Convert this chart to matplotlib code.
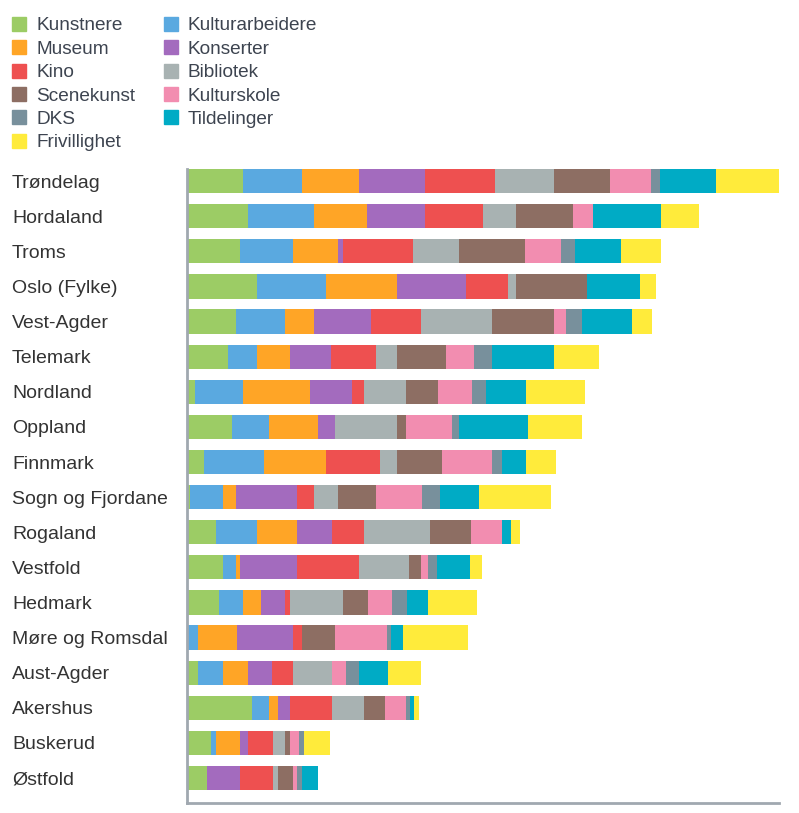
import matplotlib.pyplot as plt
from matplotlib.lines import Line2D
import numpy as np

plt.rcParams['font.family'] = ['Liberation Sans', 'DejaVu Sans']

# fylker, øverst til nederst
fylker = ['Trøndelag', 'Hordaland', 'Troms', 'Oslo (Fylke)', 'Vest-Agder', 'Telemark',
          'Nordland', 'Oppland', 'Finnmark', 'Sogn og Fjordane', 'Rogaland', 'Vestfold',
          'Hedmark', 'Møre og Romsdal', 'Aust-Agder', 'Akershus', 'Buskerud', 'Østfold']

kategorier = ['Kunstnere', 'Kulturarbeidere', 'Museum', 'Konserter', 'Kino', 'Bibliotek',
              'Scenekunst', 'Kulturskole', 'DKS', 'Tildelinger', 'Frivillighet']

farger = ['#9ccc65', '#5aa9e0', '#ffa526', '#a36bbe', '#ee5050', '#a8b2b2',
          '#8d6e63', '#f28db0', '#78909c', '#00abc5', '#ffeb3b']

# verdier per kategori (samme rekkefølge som fylker)
kunstnere = [56.4, 61, 53, 70.3, 49, 40.7, 8, 44.7, 17, 3, 28.7, 35.7, 32.3, 0, 11.3, 65, 23.7, 20.3]
kulturarbeidere = [58.3, 65.7, 53.3, 68.7, 49, 29.3, 48.3, 37.6, 60, 33, 41.3, 13.3, 24, 11.3, 25, 17.3, 5, 0]
museum = [57, 53.7, 44.7, 71, 29, 33, 66.7, 48.4, 62.3, 13.3, 40, 4, 17.4, 38.4, 24.7, 8.4, 24.6, 0]
konserter = [66, 57.3, 5.3, 69, 57, 41.3, 42, 17.3, 0, 60.4, 34.7, 57.3, 24.3, 56.6, 24.3, 12.3, 8, 32.7]
kino = [70.3, 58, 69.4, 41.7, 49.7, 44.7, 12, 0, 53.7, 17.3, 32.3, 61.7, 5, 9, 21, 41.7, 24.4, 32.7]
bibliotek = [58.7, 33, 46, 8.3, 71.3, 20.7, 41.7, 62, 16.7, 24.3, 66, 50, 53.3, 0, 38.7, 32.3, 12.3, 5.3]
scenekunst = [56.7, 57.6, 66.3, 70.7, 62, 49, 32.6, 8.7, 45.3, 37.7, 41, 11.7, 24.4, 32.7, 0, 20.7, 5, 15.3]
kulturskole = [41, 20, 36, 0, 12, 28.3, 34, 46.6, 50, 46.3, 31.3, 7, 24.3, 52.3, 14, 21, 8.7, 3.7]
dks = [8.3, 0, 14, 0, 15.7, 18, 13.4, 7, 10.3, 17.7, 0, 9, 15, 3.7, 13, 4.3, 5.6, 5]
tildelinger = [56.7, 67.7, 46, 53.3, 50.3, 62, 40.3, 68.7, 23.7, 39.3, 8.7, 33.3, 20.7, 11.7, 29.3, 4.3, 0, 16]
frivillighet = [62.6, 37.7, 39.7, 15.7, 20.3, 45, 58.7, 53.7, 29.7, 71.4, 9, 11.7, 49.6, 65.6, 33, 4.4, 25.7, 0]

serier = [kunstnere, kulturarbeidere, museum, konserter, kino, bibliotek,
          scenekunst, kulturskole, dks, tildelinger, frivillighet]

fig = plt.figure(figsize=(7.99, 8.13), dpi=100)
ax = fig.add_axes([187/799, 1 - 803/813, (779-187)/799, (803-169)/813])

y = np.arange(len(fylker))
venstre = np.zeros(len(fylker))
for navn, verdier, farge in zip(kategorier, serier, farger):
    ax.barh(y, verdier, left=venstre, height=0.69, color=farge, label=navn)
    venstre += np.array(verdier)

ax.set_xlim(0, 592)
ax.set_ylim(17.71, -0.345)
ax.set_xticks([])
ax.set_yticks(y)
ax.set_yticklabels(fylker, fontsize=14, color='#333333', ha='left')
ax.tick_params(axis='y', length=0, pad=126)

for side in ['top', 'right']:
    ax.spines[side].set_visible(False)
for side in ['left', 'bottom']:
    ax.spines[side].set_color('#a0a8b0')
    ax.spines[side].set_linewidth(2)

# legende, radvis som i originalen
handles = [Line2D([], [], marker='s', linestyle='none', markersize=10,
                  markerfacecolor=f, markeredgecolor=f) for f in farger]
rekkefolge = [0, 2, 4, 6, 8, 10, 1, 3, 5, 7, 9]
leg = fig.legend([handles[i] for i in rekkefolge], [kategorier[i] for i in rekkefolge],
                 ncol=2, loc='upper left', bbox_to_anchor=(-0.009, 1.0), frameon=False,
                 fontsize=13.7, handlelength=1.0, handletextpad=0.4, labelspacing=0.32,
                 columnspacing=1.35, borderaxespad=0.5)
for t in leg.get_texts():
    t.set_color('#3d4450')

fig.savefig('out.png', dpi=100)
